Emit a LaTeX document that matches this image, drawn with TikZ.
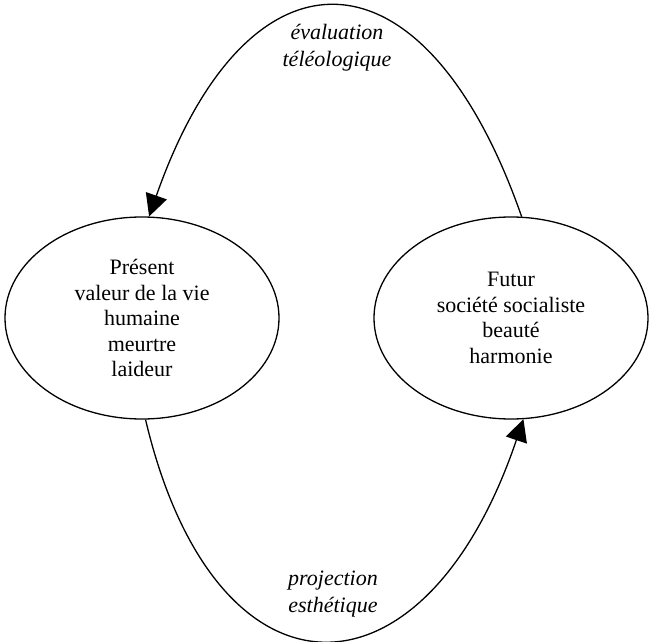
\documentclass[tikz,border=0pt]{standalone}
\usepackage{fontspec}
\setmainfont{Liberation Serif}
\usetikzlibrary{arrows.meta,shapes.geometric}
\begin{document}
\begin{tikzpicture}[x=1pt,y=-1pt,
  state/.style={draw,line width=1.3pt,ellipse,minimum width=274pt,minimum height=202pt,inner sep=0pt,align=center,
    font=\fontsize{22}{25.5}\selectfont},
  lbl/.style={align=center,font=\fontsize{22}{27}\selectfont\itshape},
  flow/.style={line width=1.3pt,-{Triangle[length=22pt,width=22pt]}}]
\useasboundingbox (0,0) rectangle (649,642);
\node[state] (L) at (142,318) {Présent\\valeur de la vie\\humaine\\meurtre\\laideur};
\node[state] (R) at (511,318) {Futur\\société socialiste\\beauté\\harmonie};
\draw[flow] (R.84) .. controls (424,-63) and (247,-63) .. (L.86);
\draw[flow] (L.-88) .. controls (215,713) and (424,713) .. (R.-83);
\node[lbl] (top) at (337,48) {évaluation\\téléologique};
\node[lbl] (bot) at (333,594) {projection\\esthétique};
\end{tikzpicture}
\end{document}
